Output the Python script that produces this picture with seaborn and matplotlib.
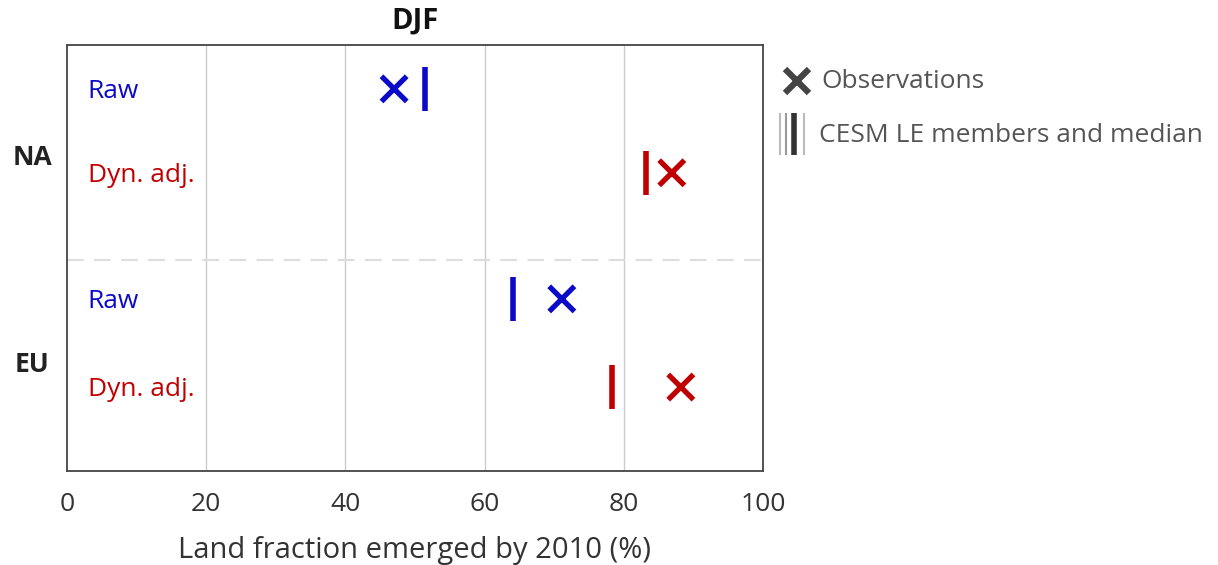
import matplotlib
matplotlib.use("Agg")
import matplotlib.pyplot as plt
from matplotlib.lines import Line2D
import seaborn as sns
import pandas as pd

# ---- data ----
regions = ["NA", "NA", "EU", "EU"]
kinds = ["Raw", "Dyn. adj.", "Raw", "Dyn. adj."]
row_pos = [0.103, 0.30, 0.596, 0.803]
obs_values = [47.0, 86.9, 71.1, 88.2]
median_values = [51.4, 83.2, 64.1, 78.3]
xticks = [0, 20, 40, 60, 80, 100]
title = "DJF"
xlabel = "Land fraction emerged by 2010 (%)"

BLUE = "#0a0ac8"
RED = "#c00000"
kind_colors = {"Raw": BLUE, "Dyn. adj.": RED}

sns.set_theme(style="white")
plt.rcParams["font.family"] = ["Open Sans", "DejaVu Sans"]

df = pd.DataFrame({"region": regions, "kind": kinds, "y": row_pos,
                   "obs": obs_values, "median": median_values})

fig = plt.figure(figsize=(12.18, 5.65), dpi=100)
ax = fig.add_axes([0.055, 0.1664, 0.5714, 0.754])

for xv in xticks[1:-1]:
    ax.axvline(xv, color="#cccccc", lw=1, zorder=0)
ax.axhline(0.505, color="#dddddd", lw=1.5, ls=(0, (8, 5)), zorder=0)

sns.scatterplot(data=df, x="median", y="y", hue="kind", palette=kind_colors,
                marker="|", s=1000, linewidth=4, legend=False, ax=ax, zorder=3)
sns.scatterplot(data=df, x="obs", y="y", hue="kind", palette=kind_colors,
                marker="x", s=330, linewidth=3.8, legend=False, ax=ax, zorder=3)

ax.set_xlim(0, 100)
ax.set_ylim(1, 0)
ax.set_xticks(xticks)
ax.set_xticklabels([str(v) for v in xticks], fontsize=19, color="#333333")
ax.set_yticks([])
ax.tick_params(axis="x", direction="in", length=4, color="#444444", pad=15)
for sp in ax.spines.values():
    sp.set_color("#444444")
    sp.set_linewidth(1.3)
ax.set_xlabel(xlabel, fontsize=21, color="#333333", labelpad=14)
ax.set_ylabel("")
ax.set_title(title, fontsize=21, fontweight="bold", pad=12, color="#111111")

for k, yy in zip(kinds, row_pos):
    ax.text(3, yy + 0.006, k, color=kind_colors[k], fontsize=19, va="center", ha="left")

for reg, yy in [("NA", 0.263), ("EU", 0.751)]:
    ax.text(-0.05, yy, reg, transform=ax.get_yaxis_transform(), ha="center",
            va="center", fontsize=19, fontweight="bold", color="#222222")

# legend outside right
def fx(px):
    return px / 1218

def fy(py):
    return 1 - py / 565

fig.add_artist(Line2D([fx(797)], [fy(81)], marker="x", markersize=17,
                      markeredgewidth=4.5, color="#444444", transform=fig.transFigure))
fig.text(fx(821), fy(82), "Observations", fontsize=19, color="#555555", va="center")
for px, c, w in [(780, "#bbbbbb", 1.5), (786, "#999999", 1.5), (794, "#333333", 4), (804, "#bbbbbb", 1.5)]:
    fig.add_artist(Line2D([fx(px), fx(px)], [fy(113), fy(155)], color=c, lw=w,
                          solid_capstyle="butt", transform=fig.transFigure))
fig.text(fx(819), fy(135), "CESM LE members and median", fontsize=19, color="#555555", va="center")

fig.savefig("out.png", dpi=100)
